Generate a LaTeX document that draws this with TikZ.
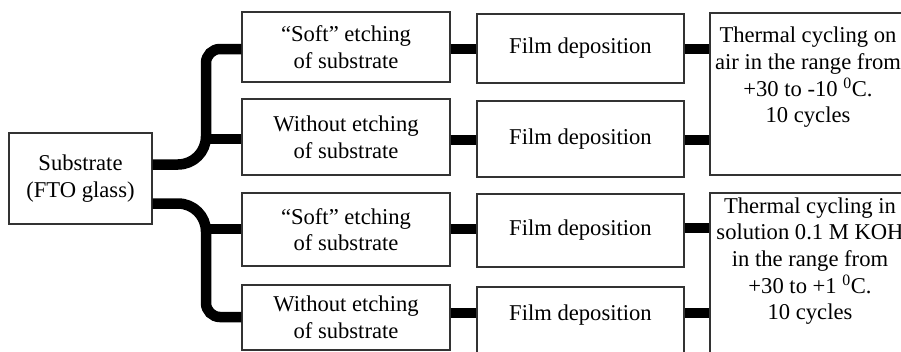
\documentclass[tikz,border=0pt]{standalone}
\usepackage{fontspec}
\setmainfont{Liberation Serif}
\begin{document}
\begin{tikzpicture}[x=1pt,y=-1pt,
  box/.style={draw=black!80, line width=1.1pt, fill=white, inner sep=0pt, align=center,
    font=\fontsize{22.6}{26.7}\selectfont},
  txt/.style={inner sep=0pt, align=center, font=\fontsize{22.6}{26.7}\selectfont},
  conn/.style={line width=10.5pt, black},
]
\useasboundingbox (0,0) rectangle (901,351);
\clip (0,0) rectangle (901,351);
% column 1
\node[box, minimum width=143pt, minimum height=91pt] (sub) at (80.5,178.5) {Substrate\\(FTO glass)};
% column 2
\node[box, minimum width=208pt, minimum height=70pt] (c21) at (346,47) {“Soft” etching\\of substrate};
\node[box, minimum width=208pt, minimum height=76pt] (c22) at (346,137) {Without etching\\of substrate};
\node[box, minimum width=208pt, minimum height=73pt] (c23) at (346,229.5) {“Soft” etching\\of substrate};
\node[box, minimum width=208pt, minimum height=65pt] (c24) at (346,317.5) {Without etching\\of substrate};
% column 3
\node[box, minimum width=207pt, minimum height=69pt] (c31) at (580.5,48.5) {Film deposition};
\node[box, minimum width=207pt, minimum height=76pt] (c32) at (580.5,139) {Film deposition};
\node[box, minimum width=207pt, minimum height=73pt] (c33) at (580.5,230.5) {Film deposition};
\node[box, minimum width=207pt, minimum height=69pt, text height=15.4pt, text depth=18.4pt] (c34) at (580.5,321.5) {Film deposition};
% column 4
\node[box, minimum width=210pt, minimum height=162pt] (c41) at (815,94) {};
\node[box, minimum width=210pt, minimum height=177pt] (c42) at (815,281.5) {};
\node[txt] (t41) at (808,77.3) {Thermal cycling on\\air in the range from\\+30 to -10 \textsuperscript{0}C.\\10 cycles};
\node[txt] (t42) at (810,261) {Thermal cycling in\\solution 0.1 M KOH\\in the range from\\+30 to +1 \textsuperscript{0}C.\\10 cycles};
% junctions
\coordinate (j1) at (206,139);
\coordinate (j2) at (206,229);
% branching connectors
\draw[conn] (sub.east |- 0,164.5) -- (178,164.5) .. controls (193.5,164.5) and (206,152) .. (206,136.5)
  -- (206,63) .. controls (206,55.3) and (212.3,49) .. (220,49) -- (c21.west |- 0,49);
\draw[conn] (sub.east |- 0,203.5) -- (178,203.5) .. controls (193.5,203.5) and (206,216) .. (206,231.5)
  -- (206,303) .. controls (206,310.7) and (212.3,317) .. (220,317) -- (c24.west |- 0,317);
\draw[conn] (j1) -- (c22.west |- j1);
\draw[conn] (j2) -- (c23.west |- j2);
% bars col2 -> col3
\draw[conn] (c21.east |- 0,49) -- (c31.west |- 0,49);
\draw[conn] (c22.east |- 0,140) -- (c32.west |- 0,140);
\draw[conn] (c23.east |- 0,229) -- (c33.west |- 0,229);
\draw[conn] (c24.east |- 0,313) -- (c34.west |- 0,313);
% bars col3 -> col4
\draw[conn] (c31.east |- 0,49) -- (c41.west |- 0,49);
\draw[conn] (c32.east |- 0,140) -- (c41.west |- 0,140);
\draw[conn] (c33.east |- 0,228) -- (c42.west |- 0,228);
\draw[conn] (c34.east |- 0,313) -- (c42.west |- 0,313);
\end{tikzpicture}
\end{document}
